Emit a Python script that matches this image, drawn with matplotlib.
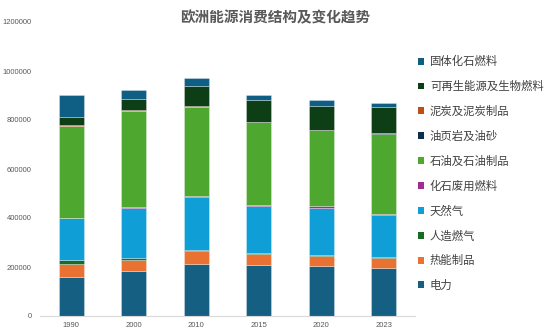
import matplotlib
matplotlib.use("Agg")
import matplotlib.pyplot as plt
import numpy as np
from matplotlib.patches import Patch

years = ["1990", "2000", "2010", "2015", "2020", "2023"]

# Series (bottom to top of stack)
electricity   = [159000, 185000, 212000, 208000, 203000, 196000]   # 电力
heat          = [54000, 42000, 52000, 44000, 43000, 42000]          # 热能制品
manuf_gas     = [17000, 10000, 5000, 5000, 3000, 3000]              # 人造燃气
natural_gas   = [171000, 203000, 217000, 191000, 193000, 173000]    # 天然气
fossil_waste  = [1000, 4000, 4000, 6000, 7000, 4000]                # 化石废用燃料
oil           = [372000, 393000, 364000, 337000, 310000, 326000]    # 石油及石油制品
oil_shale     = [1000, 1000, 1000, 1000, 1000, 1000]                # 油页岩及油砂
peat          = [4000, 1000, 1000, 1000, 1000, 1000]                # 泥炭及泥炭制品
renewables    = [35000, 48000, 84000, 88000, 98000, 107000]         # 可再生能源及生物燃料
solid_fossil  = [88000, 34000, 30000, 23000, 24000, 15000]          # 固体化石燃料

series = [
    ("电力", electricity, "#156082"),
    ("热能制品", heat, "#E97132"),
    ("人造燃气", manuf_gas, "#196B24"),
    ("天然气", natural_gas, "#0F9ED5"),
    ("化石废用燃料", fossil_waste, "#A02B93"),
    ("石油及石油制品", oil, "#4EA72E"),
    ("油页岩及油砂", oil_shale, "#0E2F4A"),
    ("泥炭及泥炭制品", peat, "#C04F15"),
    ("可再生能源及生物燃料", renewables, "#0E3E16"),
    ("固体化石燃料", solid_fossil, "#0F5F85"),
]

cjk = ["Noto Sans CJK SC", "DejaVu Sans"]

fig = plt.figure(figsize=(5.5, 3.34), dpi=100)
ax = fig.add_axes([40/550, 18/334, 375/550, 294/334])

x = np.arange(len(years))
bottom = np.zeros(len(years))
handles = []
for name, vals, col in series:
    v = np.array(vals, dtype=float)
    ax.bar(x, v, bottom=bottom, width=0.4, color=col, edgecolor=(1, 1, 1, 0.35), linewidth=0.6)
    bottom += v
    handles.append(Patch(facecolor=col, edgecolor="none", label=name))

ax.set_xlim(-0.5, len(years) - 0.5)
ax.set_ylim(0, 1200000)
ax.set_yticks(np.arange(0, 1200001, 200000))
ax.set_yticklabels([f"{int(t)}" for t in np.arange(0, 1200001, 200000)],
                   fontsize=5.5, color="#595959", family="Liberation Sans")
ax.set_xticks(x)
ax.set_xticklabels(years, fontsize=5.5, color="#595959", family="Liberation Sans")
ax.tick_params(axis="both", length=0)
ax.tick_params(axis="y", pad=6)
ax.tick_params(axis="x", pad=4)
for s in ["top", "right", "left"]:
    ax.spines[s].set_visible(False)
ax.spines["bottom"].set_color("#D9D9D9")
ax.spines["bottom"].set_linewidth(0.8)

fig.text(275/550, 1 - 17/334, "欧洲能源消费结构及变化趋势", ha="center", va="center",
         fontsize=10.5, color="#595959", family=cjk, fontweight="bold")

leg = fig.legend(handles=handles[::-1], loc="upper left",
                 bbox_to_anchor=(418/550, 1 - 56/334), frameon=False,
                 prop={"family": cjk, "size": 8.2}, labelcolor="#404040",
                 handlelength=0.55, handleheight=0.55, handletextpad=0.5,
                 labelspacing=1.2, borderaxespad=0, borderpad=0)

fig.savefig("out.png", dpi=100)
